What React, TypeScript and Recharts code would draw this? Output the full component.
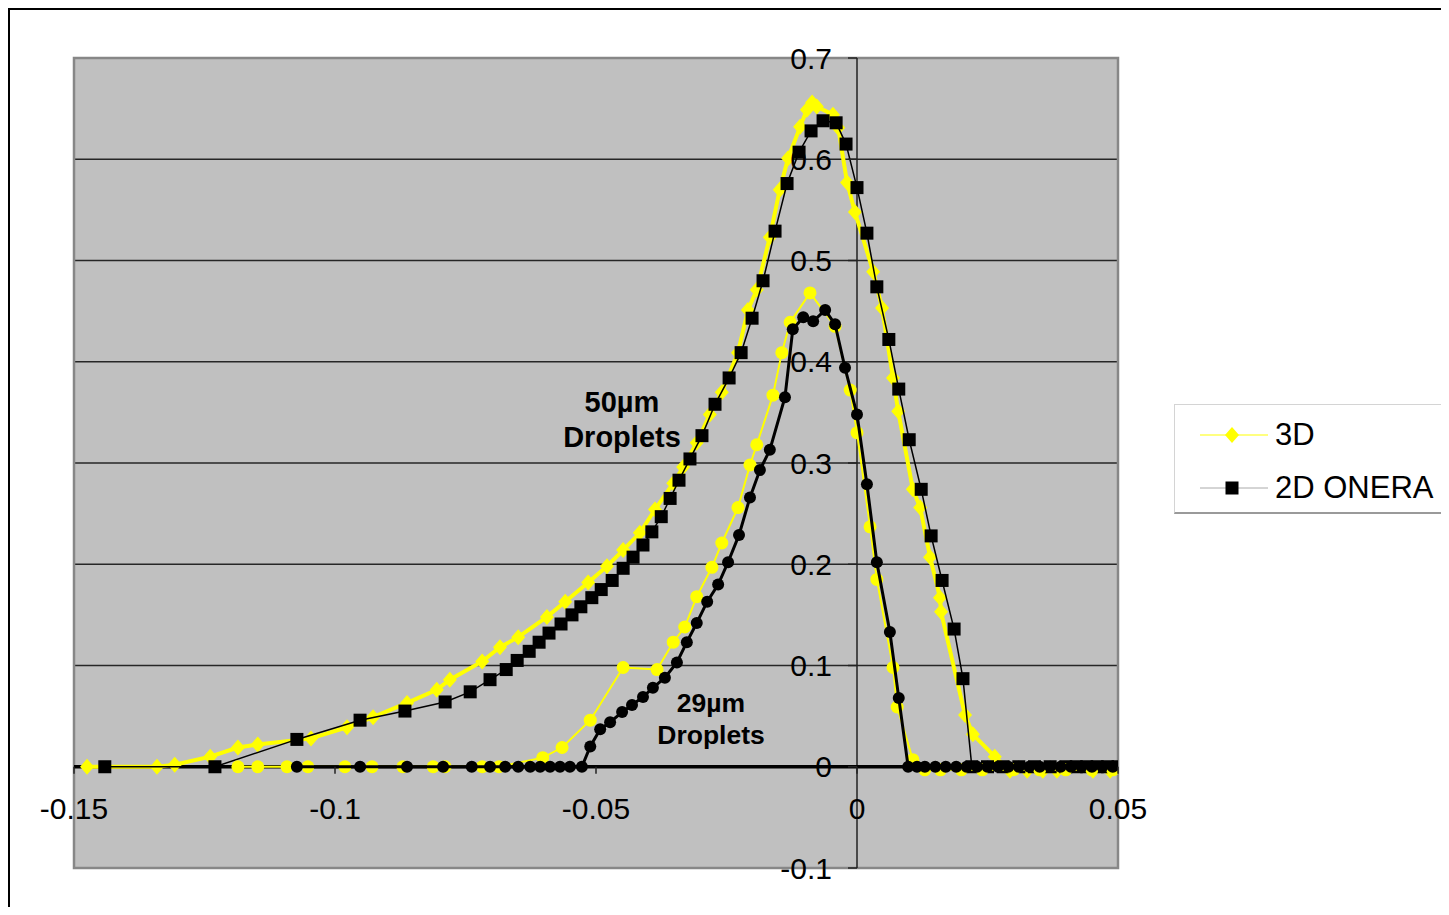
import React from "react"
import {
  ScatterChart, Scatter, XAxis, YAxis, CartesianGrid, ReferenceLine, ReferenceArea, Legend,
} from "recharts"

// [x, y] pairs
const S3D_50: [number, number][] = [
  [-0.1475, 0], [-0.1341, 0], [-0.1307, 0.002], [-0.1239, 0.01], [-0.1186, 0.019], [-0.1148, 0.022],
  [-0.1046, 0.028], [-0.0977, 0.039], [-0.0927, 0.049], [-0.0862, 0.063], [-0.0805, 0.076], [-0.078, 0.086],
  [-0.0718, 0.104], [-0.0684, 0.118], [-0.0649, 0.128], [-0.0594, 0.148], [-0.0559, 0.163], [-0.0515, 0.182],
  [-0.0479, 0.198], [-0.0448, 0.214], [-0.0416, 0.231], [-0.0387, 0.254], [-0.0352, 0.28], [-0.0333, 0.296],
  [-0.0307, 0.32], [-0.0282, 0.348], [-0.0259, 0.37], [-0.0228, 0.409], [-0.0209, 0.451], [-0.0192, 0.471],
  [-0.0167, 0.523], [-0.0148, 0.57], [-0.0132, 0.601], [-0.0109, 0.632], [-0.0096, 0.649], [-0.0086, 0.656],
  [-0.0077, 0.652], [-0.0046, 0.644], [-0.0036, 0.631], [-0.0019, 0.577], [-0.0004, 0.548], [0.0031, 0.489],
  [0.0048, 0.453], [0.0069, 0.384], [0.0079, 0.351], [0.0107, 0.274], [0.0121, 0.256], [0.014, 0.207],
  [0.0159, 0.167], [0.0161, 0.153], [0.0207, 0.051], [0.0222, 0.032], [0.0264, 0.01], [0.0293, -0.004],
  [0.0326, -0.004], [0.0356, -0.004], [0.0383, -0.004], [0.0452, -0.004], [0.0485, -0.004],
]

const S2D_50: [number, number][] = [
  [-0.1441, 0], [-0.123, 0], [-0.1073, 0.027], [-0.0952, 0.046], [-0.0866, 0.055], [-0.0789, 0.064],
  [-0.0741, 0.074], [-0.0703, 0.086], [-0.0672, 0.096], [-0.0651, 0.105], [-0.0628, 0.114], [-0.0609, 0.123],
  [-0.059, 0.132], [-0.0567, 0.141], [-0.0546, 0.15], [-0.0529, 0.158], [-0.0508, 0.167], [-0.049, 0.175],
  [-0.0469, 0.184], [-0.0448, 0.196], [-0.0429, 0.207], [-0.041, 0.219], [-0.0393, 0.232], [-0.0375, 0.247],
  [-0.0358, 0.265], [-0.0341, 0.283], [-0.032, 0.304], [-0.0297, 0.327], [-0.0272, 0.358], [-0.0245, 0.384],
  [-0.0222, 0.409], [-0.0201, 0.443], [-0.018, 0.48], [-0.0157, 0.529], [-0.0134, 0.576], [-0.0111, 0.607],
  [-0.0088, 0.628], [-0.0065, 0.638], [-0.004, 0.636], [-0.0021, 0.615], [0, 0.572], [0.0019, 0.527],
  [0.0038, 0.474], [0.0061, 0.422], [0.008, 0.373], [0.01, 0.323], [0.0123, 0.274], [0.0142, 0.228],
  [0.0163, 0.184], [0.0186, 0.136], [0.0203, 0.087], [0.022, 0], [0.025, 0], [0.028, 0], [0.031, 0],
  [0.034, 0], [0.037, 0], [0.04, 0], [0.042, 0], [0.044, 0], [0.046, 0], [0.048, 0], [0.05, 0],
]

const S3D_29: [number, number][] = [
  [-0.1186, 0], [-0.1148, 0], [-0.1092, 0], [-0.1052, 0], [-0.0981, 0], [-0.0929, 0], [-0.087, 0],
  [-0.0812, 0], [-0.0789, 0], [-0.0718, 0], [-0.0686, 0], [-0.0602, 0.009], [-0.0565, 0.019],
  [-0.0511, 0.046], [-0.0448, 0.098], [-0.0383, 0.096], [-0.0352, 0.123], [-0.033, 0.138], [-0.0307, 0.168],
  [-0.0278, 0.197], [-0.0259, 0.221], [-0.0228, 0.256], [-0.0205, 0.298], [-0.0192, 0.318], [-0.0161, 0.367],
  [-0.0144, 0.409], [-0.0128, 0.439], [-0.009, 0.468], [-0.0042, 0.435], [-0.0013, 0.372], [0, 0.33],
  [0.0025, 0.237], [0.0038, 0.185], [0.0069, 0.098], [0.0077, 0.059], [0.0107, 0.007], [0.013, -0.003],
  [0.016, -0.003], [0.02, -0.003], [0.024, -0.003], [0.03, -0.003], [0.035, -0.003], [0.04, -0.003],
  [0.045, -0.003], [0.049, -0.003],
]

const S2D_29: [number, number][] = [
  [-0.1073, 0], [-0.0952, 0], [-0.0862, 0], [-0.0793, 0], [-0.0738, 0], [-0.0703, 0], [-0.0674, 0],
  [-0.0649, 0], [-0.0626, 0], [-0.0607, 0], [-0.0588, 0], [-0.0569, 0], [-0.055, 0], [-0.0527, 0],
  [-0.0511, 0.02], [-0.0492, 0.037], [-0.0473, 0.044], [-0.045, 0.054], [-0.0431, 0.061], [-0.041, 0.069],
  [-0.0391, 0.078], [-0.0368, 0.088], [-0.0345, 0.103], [-0.0326, 0.123], [-0.0307, 0.142], [-0.0287, 0.163],
  [-0.0266, 0.18], [-0.0247, 0.202], [-0.0226, 0.229], [-0.0205, 0.266], [-0.0186, 0.293], [-0.0167, 0.313],
  [-0.0138, 0.365], [-0.0123, 0.432], [-0.0103, 0.444], [-0.0084, 0.44], [-0.0061, 0.451], [-0.0042, 0.437],
  [-0.0023, 0.394], [0, 0.348], [0.0019, 0.279], [0.0038, 0.202], [0.0063, 0.133], [0.008, 0.068],
  [0.0098, 0], [0.0115, 0], [0.013, 0], [0.015, 0], [0.017, 0], [0.019, 0], [0.021, 0], [0.023, 0],
  [0.025, 0], [0.027, 0], [0.029, 0], [0.031, 0], [0.033, 0], [0.035, 0], [0.037, 0], [0.039, 0],
  [0.041, 0], [0.043, 0], [0.045, 0], [0.047, 0], [0.049, 0],
]

const X_TICKS = [-0.15, -0.1, -0.05, 0, 0.05]
const Y_TICKS = [-0.1, 0, 0.1, 0.2, 0.3, 0.4, 0.5, 0.6, 0.7]
const X_DOMAIN: [number, number] = [-0.15, 0.05]
const Y_DOMAIN: [number, number] = [-0.1, 0.7]
const LEGEND_ORDER = ["3D", "2D ONERA"]

const W = 1439
const H = 897
// axes take 1px each, so the plot is 64..1108 x 48..858
const M = { top: 48, right: 331, bottom: 38, left: 63 }
const PL = M.left + 1
const PW = W - PL - M.right
const PH = H - M.top - M.bottom - 1
// where the axes cross (x = 0, y = 0) inside the plot
const X0 = PL + (PW * (0 - X_DOMAIN[0])) / (X_DOMAIN[1] - X_DOMAIN[0])
const Y0 = M.top + (PH * (Y_DOMAIN[1] - 0)) / (Y_DOMAIN[1] - Y_DOMAIN[0])

const FONT = '"Liberation Sans", Arial, sans-serif'
const YEL = "#ffff00"

const toPts = (a: [number, number][]) => a.map(([x, y]) => ({ x, y }))

const XTick = (p: any) => (
  <g>
    <line x1={p.x} x2={p.x} y1={Y0} y2={Y0 + 7} stroke="#222" strokeWidth={1.5} />
    <text x={p.x} y={Y0 + 42} textAnchor="middle" dominantBaseline="central" fontSize={30} fontFamily={FONT} fill="#000">
      {String(p.payload.value)}
    </text>
  </g>
)

const YTick = (p: any) => (
  <g>
    <line x1={X0 - 9} x2={X0} y1={p.y} y2={p.y} stroke="#222" strokeWidth={1.5} />
    <text x={X0 - 25} y={p.y} textAnchor="end" dominantBaseline="central" fontSize={30} fontFamily={FONT} fill="#000">
      {String(p.payload.value)}
    </text>
  </g>
)

const diamond = (p: any) => (
  <polygon points={`${p.cx},${p.cy - 8} ${p.cx + 7},${p.cy} ${p.cx},${p.cy + 8} ${p.cx - 7},${p.cy}`} fill={YEL} />
)
const square = (p: any) => <rect x={p.cx - 6.5} y={p.cy - 6.5} width={13} height={13} fill="#000" />
const yDot = (p: any) => <circle cx={p.cx} cy={p.cy} r={6.5} fill={YEL} />
const bDot = (p: any) => <circle cx={p.cx} cy={p.cy} r={6} fill="#000" />

const LegendBox = ({ payload }: any) => {
  const items = (payload || [])
    .filter((e: any) => e.type !== "none")
    .sort((a: any, b: any) => LEGEND_ORDER.indexOf(a.value) - LEGEND_ORDER.indexOf(b.value))
  return (
    <div style={{
      background: "#fff", border: "1px solid #d4d4d4", borderBottom: "2px solid #9a9a9a",
      width: 290, height: 110, boxSizing: "border-box", paddingTop: 3, fontFamily: FONT,
    }}>
      {items.map((e: any) => (
        <div key={e.value} style={{ display: "flex", alignItems: "center", height: 53 }}>
          <svg width={100} height={20} style={{ flex: "none" }}>
            <line x1={25} x2={93} y1={10} y2={10} stroke={e.type === "diamond" ? YEL : "#aaa"} strokeWidth={1} />
            {e.type === "diamond"
              ? <polygon points="57,2 64,10 57,18 50,10" fill={YEL} />
              : <rect x={50.5} y={3.5} width={13} height={13} fill="#000" />}
          </svg>
          <span style={{ fontSize: 31, color: "#000", lineHeight: 1 }}>{e.value}</span>
        </div>
      ))}
    </div>
  )
}

const note = { position: "absolute" as const, width: 220, textAlign: "center" as const, fontWeight: 700, color: "#000", fontFamily: FONT }

export default function App() {
  return (
    <div style={{ position: "relative", width: W, height: H, borderTop: "2px solid #000", borderLeft: "2px solid #000", overflow: "hidden" }}>
      <style>{"html,body{overflow:hidden}"}</style>
      <ScatterChart width={W} height={H} margin={M}>
        <CartesianGrid vertical={false} stroke="#262626" strokeWidth={1.5} fill="#c0c0c0" />
        <XAxis type="number" dataKey="x" domain={X_DOMAIN} ticks={X_TICKS} height={1}
          axisLine={false} tickLine={false} tick={XTick} interval={0} allowDataOverflow />
        <YAxis type="number" dataKey="y" domain={Y_DOMAIN} ticks={Y_TICKS} width={1}
          axisLine={false} tickLine={false} tick={YTick} interval={0} allowDataOverflow />
        <ReferenceArea x1={X_DOMAIN[0]} x2={X_DOMAIN[1]} y1={Y_DOMAIN[0]} y2={Y_DOMAIN[1]}
          fill="none" stroke="#878787" strokeWidth={2.5} fillOpacity={0} />
        <ReferenceLine x={0} stroke="#222" strokeWidth={1.5} />
        <ReferenceLine y={0} stroke="#000" strokeWidth={3.5} />
        <Legend content={LegendBox} layout="vertical" align="center" verticalAlign="middle"
          wrapperStyle={{ left: 1164, top: 394, width: 290 }} />
        <Scatter name="3D" data={toPts(S3D_50)} fill={YEL} legendType="diamond"
          line={{ stroke: YEL, strokeWidth: 4 }} lineType="joint" shape={diamond} isAnimationActive={false} />
        <Scatter name="2D ONERA" data={toPts(S2D_50)} fill="#000" legendType="square"
          line={{ stroke: "#000", strokeWidth: 1.5 }} lineType="joint" shape={square} isAnimationActive={false} />
        <Scatter name="3D 29" data={toPts(S3D_29)} fill={YEL} legendType="none"
          line={{ stroke: YEL, strokeWidth: 2 }} lineType="joint" shape={yDot} isAnimationActive={false} />
        <Scatter name="2D 29" data={toPts(S2D_29)} fill="#000" legendType="none"
          line={{ stroke: "#000", strokeWidth: 3 }} lineType="joint" shape={bDot} isAnimationActive={false} />
      </ScatterChart>
      <div style={{ ...note, left: 612 - 110, top: 374.5, fontSize: 29, lineHeight: "35px" }}>
        50µm<br />Droplets
      </div>
      <div style={{ ...note, left: 701 - 110, top: 677, fontSize: 26.5, lineHeight: "32px" }}>
        29µm<br />Droplets
      </div>
    </div>
  )
}
